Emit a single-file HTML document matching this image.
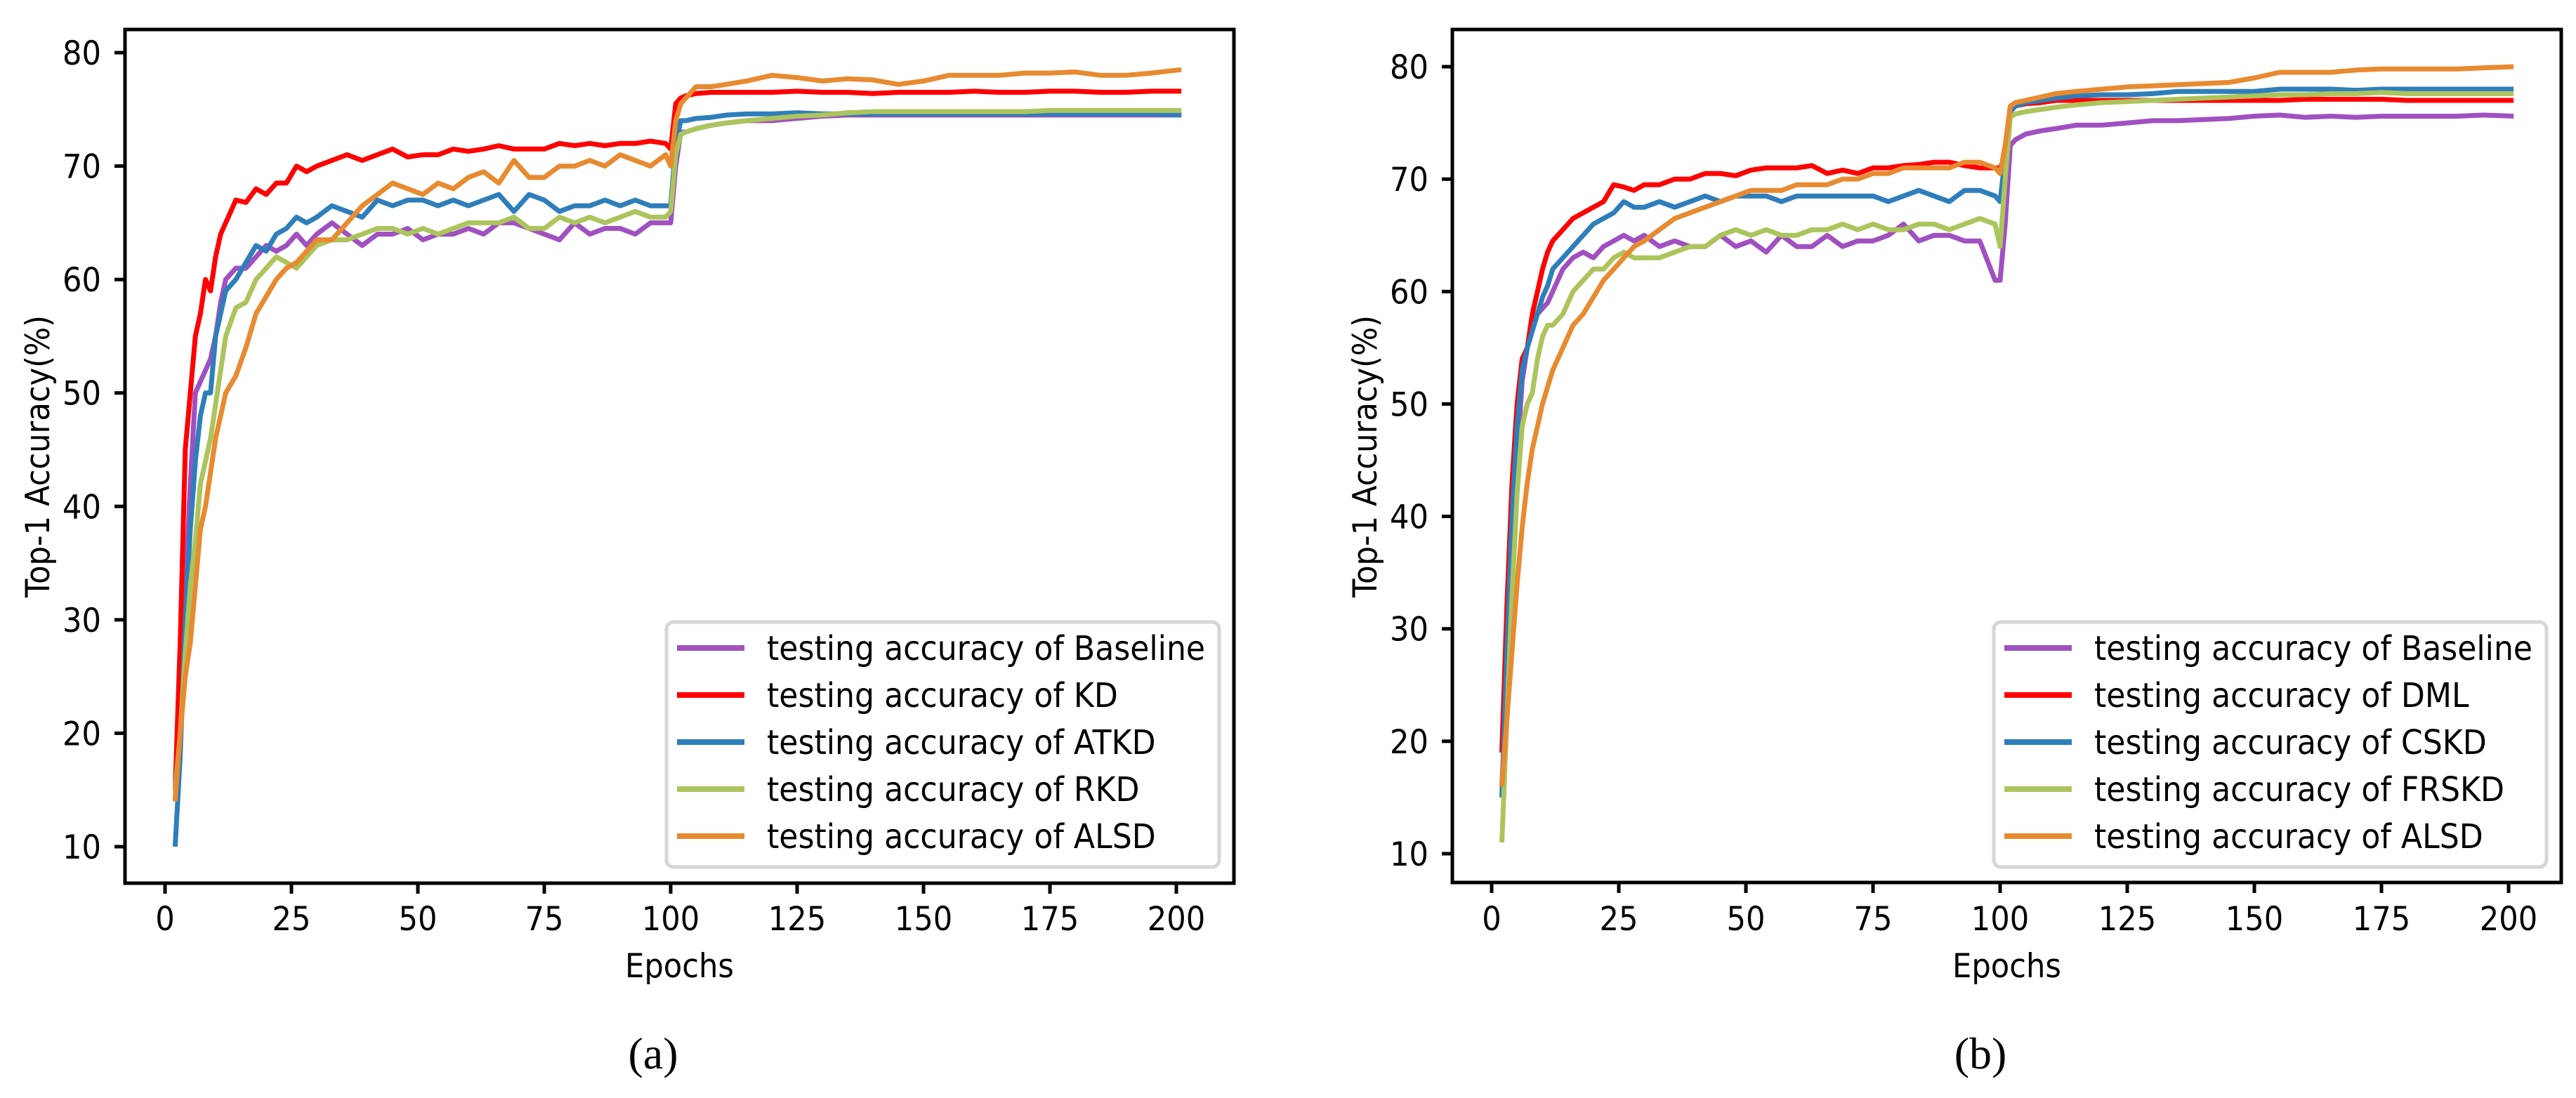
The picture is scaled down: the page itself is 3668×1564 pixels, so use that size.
<!DOCTYPE html>
<html><head><meta charset="utf-8"><style>
html,body{margin:0;padding:0;background:#fff;}
svg{display:block;}
text{font-family:"DejaVu Sans","Liberation Sans",sans-serif;}
</style></head><body>
<svg id="fig" width="3668" height="1564" viewBox="0 0 3668 1564" xmlns="http://www.w3.org/2000/svg"></svg>
<script>
const epochs=[2,3,4,5,6,7,8,9,10,11,12,14,16,18,20,22,24,26,28,30,33,36,39,42,45,48,51,54,57,60,63,66,69,72,75,78,81,84,87,90,93,96,99,100,101,102,103,105,108,111,115,120,125,130,135,140,145,150,155,160,165,170,175,180,185,190,195,201];
const xTicks=[0,25,50,75,100,125,150,175,200];
const yTicks=[10,20,30,40,50,60,70,80];
const labelsA=["testing accuracy of Baseline","testing accuracy of KD","testing accuracy of ATKD","testing accuracy of RKD","testing accuracy of ALSD"];
const labelsB=["testing accuracy of Baseline","testing accuracy of DML","testing accuracy of CSKD","testing accuracy of FRSKD","testing accuracy of ALSD"];
const aBaseline=[14,22,32,42,50,51,52,53,55,58,60,61,61,62,63,62.5,63,64,63,64,65,64,63,64,64,64.5,63.5,64,64,64.5,64,65,65,64.5,64,63.5,65,64,64.5,64.5,64,65,65,65,70,73,73,73.3,73.6,73.8,74,74,74.2,74.4,74.5,74.5,74.5,74.5,74.5,74.5,74.5,74.5,74.5,74.5,74.5,74.5,74.5,74.5];
const aKD=[15,28,45,50,55,57,60,59,62,64,65,67,66.8,68,67.5,68.5,68.5,70,69.5,70,70.5,71,70.5,71,71.5,70.8,71,71,71.5,71.3,71.5,71.8,71.5,71.5,71.5,72,71.8,72,71.8,72,72,72.2,72,71.5,75.5,76,76.2,76.4,76.5,76.5,76.5,76.5,76.6,76.5,76.5,76.4,76.5,76.5,76.5,76.6,76.5,76.5,76.6,76.6,76.5,76.5,76.6,76.6];
const aATKD=[10,18,30,38,44,48,50,50,55,57,59,60,61.5,63,62.5,64,64.5,65.5,65,65.5,66.5,66,65.5,67,66.5,67,67,66.5,67,66.5,67,67.5,66,67.5,67,66,66.5,66.5,67,66.5,67,66.5,66.5,66.5,72,74,74,74.2,74.3,74.5,74.6,74.6,74.7,74.6,74.6,74.6,74.6,74.6,74.6,74.6,74.6,74.6,74.6,74.6,74.6,74.6,74.6,74.5];
const aRKD=[15,20,27,33,37,42,44,46,49,52,55,57.5,58,60,61,62,61.5,61,62,63,63.5,63.5,64,64.5,64.5,64,64.5,64,64.5,65,65,65,65.5,64.5,64.5,65.5,65,65.5,65,65.5,66,65.5,65.5,66,71,72.8,73,73.3,73.6,73.8,74,74.2,74.4,74.5,74.7,74.8,74.8,74.8,74.8,74.8,74.8,74.8,74.9,74.9,74.9,74.9,74.9,74.9];
const aALSD=[14,20,25,28,33,38,40,43,46,48,50,51.5,54,57,58.5,60,61,61.5,62.5,63.5,63.5,65,66.5,67.5,68.5,68,67.5,68.5,68,69,69.5,68.5,70.5,69,69,70,70,70.5,70,71,70.5,70,71,70,74,75.5,76,77,77,77.2,77.5,78,77.8,77.5,77.7,77.6,77.2,77.5,78,78,78,78.2,78.2,78.3,78,78,78.2,78.5];
const bBaseline=[16,25,35,45,52,55,57,58,58.5,59,60,62,63,63.5,63,64,64.5,65,64.5,65,64,64.5,64,64,65,64,64.5,63.5,65,64,64,65,64,64.5,64.5,65,66,64.5,65,65,64.5,64.5,61,61,66,73,73.5,74,74.3,74.5,74.8,74.8,75,75.2,75.2,75.3,75.4,75.6,75.7,75.5,75.6,75.5,75.6,75.6,75.6,75.6,75.7,75.6];
const bDML=[19,32,43,50,54,55,58,60,62,63.5,64.5,65.5,66.5,67,67.5,68,69.5,69.3,69,69.5,69.5,70,70,70.5,70.5,70.3,70.8,71,71,71,71.2,70.5,70.8,70.5,71,71,71.2,71.3,71.5,71.5,71.2,71,71,71,72,76,76.5,76.7,76.8,77,77,77,77,77,77,77,77,77,77,77.1,77.1,77.1,77.1,77,77,77,77,77];
const bCSKD=[15,28,40,48,53,55,56.5,58,59.5,60.5,62,63,64,65,66,66.5,67,68,67.5,67.5,68,67.5,68,68.5,68,68.5,68.5,68.5,68,68.5,68.5,68.5,68.5,68.5,68.5,68,68.5,69,68.5,68,69,69,68.5,68,72,76,76.5,76.8,77,77.2,77.4,77.5,77.5,77.6,77.8,77.8,77.8,77.8,78,78,78,77.9,78,78,78,78,78,78];
const bFRSKD=[11,22,33,42,48,50,51,54,56,57,57,58,60,61,62,62,63,63.5,63,63,63,63.5,64,64,65,65.5,65,65.5,65,65,65.5,65.5,66,65.5,66,65.5,65.5,66,66,65.5,66,66.5,66,64,70,75.5,75.8,76,76.2,76.4,76.6,76.8,76.9,77,77.1,77.2,77.3,77.4,77.5,77.5,77.6,77.6,77.7,77.6,77.6,77.6,77.6,77.6];
const bALSD=[16,22,28,34,39,43,46,48,50,51.5,53,55,57,58,59.5,61,62,63,64,64.5,65.5,66.5,67,67.5,68,68.5,69,69,69,69.5,69.5,69.5,70,70,70.5,70.5,71,71,71,71,71.5,71.5,71,70.5,73,76.5,76.8,77,77.3,77.6,77.8,78,78.2,78.3,78.4,78.5,78.6,79,79.5,79.5,79.5,79.7,79.8,79.8,79.8,79.8,79.9,80];

const colors=["#a050c0","#ff0000","#2e7ebb","#acc45c","#e88a30"];
const NS="http://www.w3.org/2000/svg";
const svg=document.getElementById('fig');
function mk(tag,attrs,parent){const e=document.createElementNS(NS,tag);for(const k in attrs)e.setAttribute(k,attrs[k]);(parent||svg).appendChild(e);return e;}
function txt(str,x,y,size,anchor,parent,sx,rot,family){
  const e=mk('text',{x:0,y:0,'font-size':size,'text-anchor':anchor||'start'},parent);
  let t='translate('+x+','+y+')';
  if(rot)t+=' rotate('+rot+')';
  t+=' scale('+(sx||0.92)+',1)';
  e.setAttribute('transform',t);
  if(family)e.setAttribute('style','font-family:'+family);
  e.textContent=str;return e;
}
function panel(cfg){
  const g=mk('g',{});
  
  
  const X=v=>cfg.x0+(v-0)*(cfg.x25-cfg.x0)/25;
  const Y=v=>cfg.y10+(v-10)*(cfg.y80-cfg.y10)/70;
  // series
  cfg.series.forEach((s,i)=>{
    const d=epochs.map((e,j)=>(j?'L':'M')+X(e).toFixed(1)+' '+Y(s[j]).toFixed(1)).join(' ');
    const p=mk('path',{d:d,fill:'none',stroke:colors[i],'stroke-width':7,'stroke-linejoin':'round'},g);
    
    
  });
  // frame
  const fr=mk('rect',{x:cfg.L,y:cfg.T,width:cfg.R-cfg.L,height:cfg.B-cfg.T,fill:'none',stroke:'#000','stroke-width':5},g);
  
  
  // x ticks
  xTicks.forEach(v=>{
    mk('line',{x1:X(v),x2:X(v),y1:cfg.B,y2:cfg.B+15,stroke:'#000','stroke-width':5},g);
    const t=txt(String(v),X(v),1325,47,'middle',g);
    
    
  });
  yTicks.forEach(v=>{
    mk('line',{x1:cfg.L-15,x2:cfg.L,y1:Y(v),y2:Y(v),stroke:'#000','stroke-width':5},g);
    const t=txt(String(v),cfg.L-34,Y(v)+17,47,'end',g);
    
    
  });
  const xt=txt('Epochs',(cfg.L+cfg.R)/2,1392,47,'middle',g);
  
  
  const yt=txt('Top-1 Accuracy(%)',cfg.yTitleX,650,47,'middle',g,0.92,-90);
  
  
  // legend
  const lg=mk('g',{},g);
  
  
  const lx=cfg.R-21-787;
  mk('rect',{x:lx,y:886,width:787,height:349,rx:10,fill:'#fff',stroke:'#d6d6d6','stroke-width':5},lg);
  cfg.labels.forEach((lab,i)=>{
    const yy=923+i*67;
    const en=mk('g',{},lg);
    
    
    mk('line',{x1:lx+15,x2:lx+111,y1:yy,y2:yy,stroke:colors[i],'stroke-width':8},en);
    txt(lab,lx+143,yy+17,48,'start',en);
  });
  const cap=txt(cfg.cap,cfg.capX,1522,64,'middle',g,1,0,'"Liberation Serif",serif');
  
  
}
panel({name:'panel-a',x0:235,x25:415,y10:1206,y80:75,L:178,R:1757,T:42,B:1258,yTitleX:70,
  series:[aBaseline,aKD,aATKD,aRKD,aALSD],keys:['baseline','kd','atkd','rkd','alsd'],labels:labelsA,cap:'(a)',capX:930});
panel({name:'panel-b',x0:2124,x25:2305,y10:1216,y80:95,L:2068,R:3647,T:42,B:1257,yTitleX:1960,
  series:[bBaseline,bDML,bCSKD,bFRSKD,bALSD],keys:['baseline','dml','cskd','frskd','alsd'],labels:labelsB,cap:'(b)',capX:2820});
</script>
</body></html>
